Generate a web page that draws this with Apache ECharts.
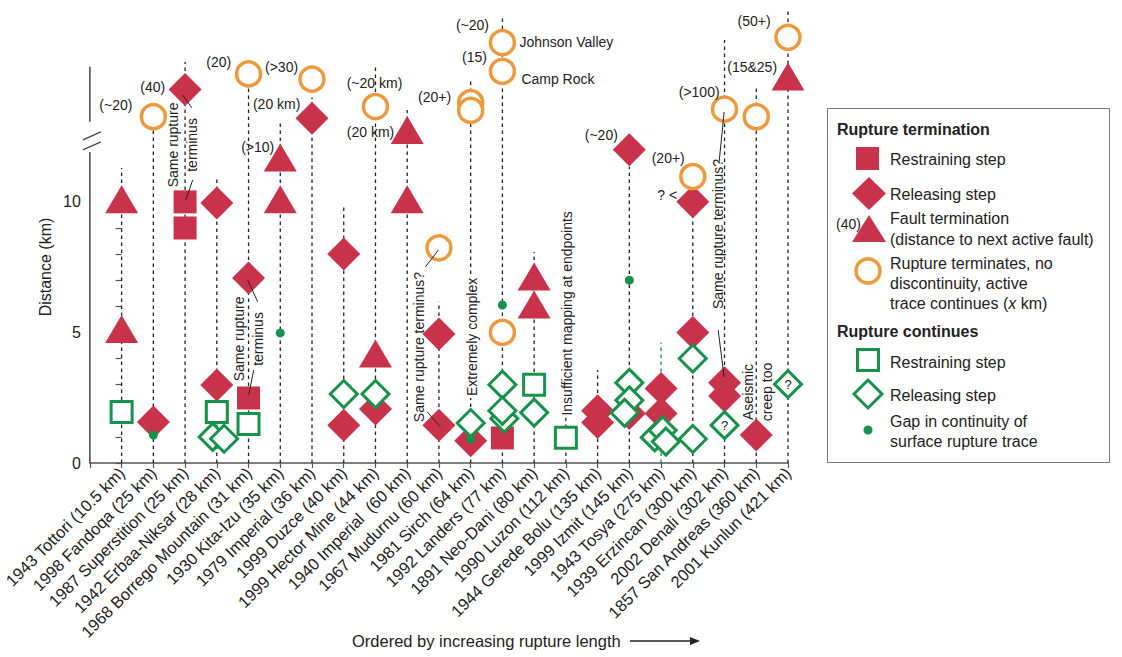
<!DOCTYPE html>
<html><head><meta charset="utf-8">
<script src="https://cdn.jsdelivr.net/npm/echarts@6/dist/echarts.min.js"></script>
<style>html,body{margin:0;padding:0;background:#fff}#c{width:1122px;height:657px}</style>
</head><body><div id="c"></div>
<script>
// ---------------- data ----------------
const categories = ['1943 Tottori (10.5 km)','1998 Fandoqa (25 km)','1987 Superstition (25 km)','1942 Erbaa-Niksar (28 km)','1968 Borrego Mountain (31 km)','1930 Kita-Izu (35 km)','1979 Imperial (36 km)','1999 Duzce (40 km)','1999 Hector Mine (44 km)','1940 Imperial  (60 km)','1967 Mudurnu (60 km)','1981 Sirch (64 km)','1992 Landers (77 km)','1891 Neo-Dani (80 km)','1990 Luzon (112 km)','1944 Gerede Bolu (135 km)','1999 Izmit (145 km)','1943 Tosya (275 km)','1939 Erzincan (300 km)','2002 Denali (302 km)','1857 San Andreas (360 km)','2001 Kunlun (421 km)'];
// top of each dashed event line (km, values above ~12 are in the broken upper zone)
const dashTop = [11.3,13.0,15.36,10.9,14.36,13.06,14.0,9.8,15.17,13.52,6.17,14.67,17.04,8.08,8.0,3.56,11.34,4.6,10.0,16.2,14.36,17.35];
const greenDashIdx = [17];
const yTicks = [0,1,2,3,4,5,6,7,8,9,10];
const yLabels = [0,5,10];

// Rupture termination
const termRestraining = [[2,10.0],[2,9.0],[4,2.49],[12,0.96]];
const termReleasing = [[1,1.57],[2,14.3],[3,9.96],[3,2.99],[4,7.08],[6,13.2],[7,8.0],[7,1.45],[8,2.07],[10,4.94],[10,1.45],[11,0.85],[15,2.0],[15,1.55],[16,12.0],[16,1.9],[17,2.85],[17,1.9],[18,10.0],[18,5.0],[19,3.07],[19,2.57],[20,1.07]];
const termFault = [[0,10.1],[0,5.13],[5,11.7],[5,10.1],[8,4.19],[9,12.75],[9,10.1],[13,7.14],[13,6.07],[21,14.8]];
const termNoDiscontinuity = [[1,13.26],[4,14.9],[6,14.7],[8,13.65],[10,8.24],[11,13.8],[11,13.5],[12,16.1],[12,15.0],[12,5.0],[18,10.97],[19,13.55],[20,13.26],[21,16.3]];
// Rupture continues
const contRestraining = [[0,1.95],[3,1.95],[4,1.49],[13,3.0],[14,0.97]];
const contReleasing = [[2.87,1.0],[3.23,0.93],[7,2.64],[8,2.64],[11,1.53],[12.06,1.7],[12,3.0],[12,2.0],[13,1.93],[16,3.07],[16,2.4],[15.85,1.92],[16.8,0.98],[17.05,1.25],[17.15,0.82],[18,4.0],[18,0.92]];
const contReleasingUncertain = [[19,1.45],[21,3.02]];
const gapPoints = [[1,1.07],[5,4.98],[11,0.92],[12,6.05],[16,7.0]];

// annotations [x, y, text] in data units
const valueLabels = [[-0.18,13.71,'(~20)'],[0.983,14.40,'(40)'],[3.06,15.36,'(20)'],[5.04,15.17,'(>30)'],[4.886,13.75,'(20 km)'],[4.288,12.10,'(>10)'],[7.97,14.55,'(~20 km)'],[7.845,12.68,'(20 km)'],[9.86,14.02,'(20+)'],[11.055,16.78,'(~20)'],[11.118,15.55,'(15)'],[15.116,12.56,'(~20)'],[17.225,11.68,'(20+)'],[17.193,10.26,'? <'],[18.20,14.21,'(>100)'],[19.87,15.17,'(15&25)'],[19.93,16.93,'(50+)']];
const sideLabels = [[12.535,16.12,'Johnson Valley'],[12.598,14.71,'Camp Rock']];
const vertNotes = [[1.927,12.18,'Same rupture\nterminus'],[3.989,4.75,'Same rupture\nterminus'],[9.356,4.44,'Same rupture terminus?'],[18.8,8.77,'Same rupture terminus?'],[20.026,2.72,'Aseismic\ncreep too']];
const vertNotesOnLine = [[11.055,4.83,'Extremely complex'],[14.046,5.73,'Insufficient mapping at endpoints']];
const leaderLines = [[1.927,14.09,2.211,13.60],[2.242,10.84,2.022,10.07],[3.973,7.01,4.288,6.17],[4.162,3.56,4.005,2.60],[9.576,7.51,9.985,8.16],[9.639,1.95,10.048,1.38],[18.988,13.44,18.83,11.53],[18.799,5.09,18.988,3.29]];
const yAxisSegments = [[-1,0,-1,11.91],[-1,13.07,-1,15.17]];
const breakMarks = [[-1.22,12.37,-0.654,12.68],[-1.22,11.99,-0.654,12.30]];

// ---------------- styles ----------------
const RED = '#C8334B', ORANGE = '#EF993F', GREEN = '#17924B', INK = '#222';
const FF = '"Liberation Sans", Arial, Helvetica, sans-serif';

function segSeries(rows, style, z) {
  return {type:'custom', silent:true, z, clip:false, data: rows,
    renderItem:(params, api) => {
      const a = api.coord([api.value(0), api.value(1)]), b = api.coord([api.value(2), api.value(3)]);
      return {type:'line', shape:{x1:a[0],y1:a[1],x2:b[0],y2:b[1]}, style};
    }};
}
function textSeries(rows, o) {
  return {type:'custom', silent:true, z:o.z || 10, clip:false, data: rows.map(r => [r[0], r[1]]),
    renderItem:(params, api) => {
      const r = rows[params.dataIndex];
      const p = api.coord([api.value(0), api.value(1)]);
      const al = o.align || 'center';
      const style = {text:r[2], x:0, y:0, fill:INK, font:o.font, align:al, textAlign:al,
        verticalAlign:'middle', textVerticalAlign:'middle', lineHeight:o.lineHeight || 18};
      if (o.bg) { style.backgroundColor = '#fff'; style.padding = [2, 2]; }
      return {type:'text', x:p[0], y:p[1], rotation:o.rot || 0, style};
    }};
}
function sc(data, symbol, size, itemStyle, z, extra) {
  return Object.assign({type:'scatter', silent:true, symbol, symbolSize:size, data,
    itemStyle:Object.assign({opacity:1}, itemStyle), z}, extra || {});
}

const chart = echarts.init(document.getElementById('c'), null, {renderer:'svg'});
const T = (text, x, y, font, extra) => Object.assign({type:'text', x, y, silent:true,
  style:Object.assign({text, font, fill:INK, align:'left', textAlign:'left', verticalAlign:'middle', textVerticalAlign:'middle'}, extra || {})});
const LF = '16px ' + FF, LB = 'bold 16px ' + FF;

chart.setOption({
  animation:false,
  backgroundColor:'#fff',
  textStyle:{fontFamily:FF},
  grid:{left:89, right:334, top:6, bottom:194},
  xAxis:{type:'value', min:-1, max:21, interval:1,
    axisLine:{show:true, lineStyle:{color:'#555', width:1.5}},
    axisTick:{show:true, length:5, lineStyle:{color:'#555', width:1.2}},
    axisLabel:{rotate:45, fontSize:16.5, color:INK, margin:7, fontFamily:FF,
      formatter:v => (v >= 0 && categories[Math.round(v)]) ? categories[Math.round(v)] : ''},
    splitLine:{show:false}},
  yAxis:{type:'value', min:0, max:17.5,
    axisLine:{show:false},
    axisTick:{show:true, length:6, customValues:yTicks, lineStyle:{color:'#555', width:1.2}},
    axisLabel:{customValues:yLabels, fontSize:16, color:INK, margin:9, fontFamily:FF},
    splitLine:{show:false}},
  series:[
    {type:'custom', silent:true, z:1, data:dashTop.map((t, i) => [i, t]),
      renderItem:(params, api) => {
        const x = api.value(0);
        const a = api.coord([x, 0]), b = api.coord([x, api.value(1)]);
        return {type:'line', shape:{x1:a[0],y1:a[1],x2:b[0],y2:b[1]},
          style:{stroke:greenDashIdx.includes(params.dataIndex) ? GREEN : INK, lineWidth:1.3, lineDash:[3.5,3.5]}};
      }},
    segSeries(yAxisSegments, {stroke:'#444', lineWidth:1.5}, 2),
    segSeries(breakMarks, {stroke:'#444', lineWidth:1.3}, 2),
    textSeries(vertNotesOnLine, {font:'14px ' + FF, rot:Math.PI/2, bg:true, z:2}),
    sc(termRestraining, 'rect', 23, {color:RED}, 3),
    sc(termFault, 'triangle', [33,28], {color:RED}, 3),
    sc(termReleasing, 'diamond', 33, {color:RED}, 3),
    sc(termNoDiscontinuity, 'circle', 24, {color:'#fff', borderColor:ORANGE, borderWidth:3.5}, 4),
    sc(contRestraining, 'rect', 21, {color:'#fff', borderColor:GREEN, borderWidth:3}, 5),
    sc(contReleasing, 'diamond', 27, {color:'#fff', borderColor:GREEN, borderWidth:3}, 5),
    sc(contReleasingUncertain, 'diamond', 27, {color:'#fff', borderColor:GREEN, borderWidth:3}, 5,
      {label:{show:true, position:'inside', formatter:'?', fontSize:13, color:INK, fontFamily:FF}}),
    sc(gapPoints, 'circle', 9, {color:GREEN}, 6),
    segSeries(leaderLines, {stroke:INK, lineWidth:1}, 7),
    textSeries(valueLabels, {font:'14px ' + FF}),
    textSeries(sideLabels, {font:'14px ' + FF, align:'left'}),
    textSeries(vertNotes, {font:'14px ' + FF, rot:Math.PI/2, lineHeight:19})
  ],
  graphic:[
    {type:'text', x:45, y:267, rotation:Math.PI/2, silent:true,
      style:{text:'Distance (km)', font:LF, fill:INK, align:'center', textAlign:'center', verticalAlign:'middle', textVerticalAlign:'middle'}},
    T('Ordered by increasing rupture length', 352, 641, '16.5px ' + FF),
    {type:'line', silent:true, shape:{x1:630, y1:641, x2:693, y2:641}, style:{stroke:INK, lineWidth:1.3}},
    {type:'polygon', silent:true, shape:{points:[[700,641],[690,637],[690,645]]}, style:{fill:INK}},
    // legend
    {type:'rect', silent:true, shape:{x:827.5, y:108.5, width:282, height:354}, style:{fill:'none', stroke:'#777', lineWidth:1}},
    T('Rupture termination', 837, 129, LB),
    {type:'rect', silent:true, shape:{x:856, y:147, width:23, height:23}, style:{fill:RED}},
    T('Restraining step', 890, 159, LF),
    {type:'polygon', silent:true, shape:{points:[[869,177],[886,193.5],[869,210],[852,193.5]]}, style:{fill:RED}},
    T('Releasing step', 890, 194, LF),
    T('(40)', 836, 224, '14px ' + FF),
    {type:'polygon', silent:true, shape:{points:[[869,215],[886,242],[852,242]]}, style:{fill:RED}},
    T('Fault termination', 890, 218, LF),
    T('(distance to next active fault)', 890, 239, LF),
    {type:'circle', silent:true, shape:{cx:868, cy:271, r:12}, style:{fill:'#fff', stroke:ORANGE, lineWidth:3.5}},
    T('Rupture terminates, no', 890, 263, LF),
    T('discontinuity, active', 890, 283, LF),
    T('trace continues ({i|x} km)', 890, 303, LF, {rich:{i:{font:'italic 16px ' + FF, fill:INK}}}),
    T('Rupture continues', 837, 331, LB),
    {type:'rect', silent:true, shape:{x:857.5, y:349.5, width:21, height:21}, style:{fill:'#fff', stroke:GREEN, lineWidth:3}},
    T('Restraining step', 890, 362, LF),
    {type:'polygon', silent:true, shape:{points:[[868,380],[882,394],[868,408],[854,394]]}, style:{fill:'#fff', stroke:GREEN, lineWidth:3}},
    T('Releasing step', 890, 395, LF),
    {type:'circle', silent:true, shape:{cx:868, cy:430, r:4.5}, style:{fill:GREEN}},
    T('Gap in continuity of', 890, 421, LF),
    T('surface rupture trace', 890, 441, LF)
  ]
});
</script>
</body></html>
